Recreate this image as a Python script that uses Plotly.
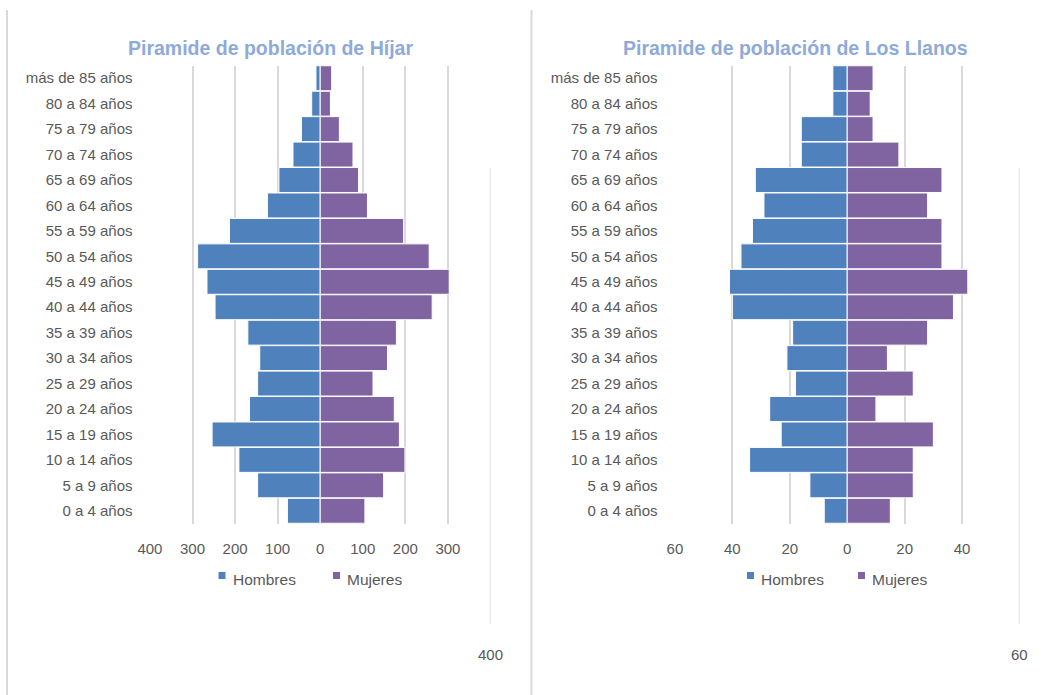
import plotly.graph_objects as go

# Age groups, bottom to top
edades = ["0 a 4 años", "5 a 9 años", "10 a 14 años", "15 a 19 años", "20 a 24 años",
          "25 a 29 años", "30 a 34 años", "35 a 39 años", "40 a 44 años", "45 a 49 años",
          "50 a 54 años", "55 a 59 años", "60 a 64 años", "65 a 69 años", "70 a 74 años",
          "75 a 79 años", "80 a 84 años", "más de 85 años"]

# Híjar (bottom to top)
hijar_hombres = [77, 147, 191, 254, 166, 147, 142, 170, 247, 266, 288, 213, 124, 97, 64, 44, 20, 10]
hijar_mujeres = [105, 149, 199, 186, 174, 124, 158, 179, 263, 303, 256, 196, 111, 90, 77, 45, 24, 27]

# Los Llanos (bottom to top)
llanos_hombres = [8, 13, 34, 23, 27, 18, 21, 19, 40, 41, 37, 33, 29, 32, 16, 16, 5, 5]
llanos_mujeres = [15, 23, 23, 30, 10, 23, 14, 28, 37, 42, 33, 33, 28, 33, 18, 9, 8, 9]

hijar_ticks = [-400, -300, -200, -100, 0, 100, 200, 300]
llanos_ticks = [-60, -40, -20, 0, 20, 40]

C_H = "#4F81BD"
C_M = "#8064A2"
GRID = "#D9D9D9"
TXT = "#595959"
FONT = "Liberation Sans"

W, H = 1043, 695

def px(x):
    return x / W

def py(y):
    return (H - y) / H

fig = go.Figure()

def add_pair(hombres, mujeres, xa, ya):
    fig.add_trace(go.Bar(y=edades, x=[-v for v in hombres], orientation="h", name="Hombres",
                         marker=dict(color=C_H, line=dict(color="white", width=1)),
                         xaxis=xa, yaxis=ya, showlegend=False,
                         customdata=hombres, hovertemplate="%{y}: %{customdata}<extra>Hombres</extra>"))
    fig.add_trace(go.Bar(y=edades, x=mujeres, orientation="h", name="Mujeres",
                         marker=dict(color=C_M, line=dict(color="white", width=1)),
                         xaxis=xa, yaxis=ya, showlegend=False,
                         hovertemplate="%{y}: %{x}<extra>Mujeres</extra>"))

add_pair(hijar_hombres, hijar_mujeres, "x", "y")
add_pair(llanos_hombres, llanos_mujeres, "x2", "y2")

ydom = [py(523.5), py(65.5)]
xcommon = dict(showgrid=True, gridcolor=GRID, gridwidth=1.5, zeroline=True, zerolinecolor=GRID,
               zerolinewidth=1.5, showline=False, ticks="", ticklabelstandoff=14, automargin=False,
               tickfont=dict(family=FONT, size=15, color=TXT), fixedrange=True)
ycommon = dict(type="category", categoryorder="array", categoryarray=edades, showgrid=False,
               zeroline=False, showline=False, ticks="", ticklabelstandoff=16, automargin=False,
               tickfont=dict(family=FONT, size=15, color=TXT), domain=ydom, fixedrange=True)

fig.update_layout(
    width=W, height=H, autosize=False, margin=dict(l=0, r=0, t=0, b=0, pad=0, autoexpand=False),
    paper_bgcolor="white", plot_bgcolor="white",
    barmode="relative", bargap=0.02,
    xaxis=dict(domain=[px(149.5), px(490.5)], range=[-401, 400], tickvals=hijar_ticks,
               ticktext=[str(abs(v)) for v in hijar_ticks], anchor="y", **xcommon),
    yaxis=dict(anchor="x", **ycommon),
    xaxis2=dict(domain=[px(674.5), px(1019.5)], range=[-60.15, 60], tickvals=llanos_ticks,
                ticktext=[str(abs(v)) for v in llanos_ticks], anchor="y2", **xcommon),
    yaxis2=dict(anchor="x2", **ycommon),
    font=dict(family=FONT, color=TXT),
)

titles = [("Piramide de población de Híjar", 270), ("Piramide de población de Los Llanos", 795)]
for t, cx in titles:
    fig.add_annotation(text="<b>" + t + "</b>", x=px(cx), y=py(48), xref="paper", yref="paper",
                       showarrow=False, xanchor="center", yanchor="middle",
                       font=dict(family=FONT, size=19.5, color="#8EAADB"))

# Legends (square + label)
legend_items = [(218.5, 231, "Hombres", C_H), (333, 345, "Mujeres", C_M),
                (747, 759, "Hombres", C_H), (858, 870, "Mujeres", C_M)]
for sx, tx, label, col in legend_items:
    fig.add_shape(type="rect", xref="paper", yref="paper", x0=px(sx), x1=px(sx + 7),
                  y0=py(579), y1=py(572), fillcolor=col, line=dict(width=0))
    fig.add_annotation(text=label, x=px(tx), y=py(579), xref="paper", yref="paper",
                       showarrow=False, xanchor="left", yanchor="middle",
                       font=dict(family=FONT, size=15.5, color=TXT))

# Chart frame borders
for bx in [7, 531.5]:
    fig.add_shape(type="line", xref="paper", yref="paper", x0=px(bx), x1=px(bx),
                  y0=py(10), y1=py(695), line=dict(color=GRID, width=2))

# Stray outer gridline and label of the max value
for xa, val in [("x", 400), ("x2", 60)]:
    fig.add_shape(type="line", xref=xa, yref="paper", x0=val, x1=val, y0=py(168), y1=py(624),
                  line=dict(color=GRID, width=1.5))
    fig.add_annotation(text=str(val), x=val, xref=xa, y=py(654), yref="paper", showarrow=False,
                       xanchor="center", yanchor="middle", font=dict(family=FONT, size=15, color=TXT))

fig.write_html("out.html", config={"displayModeBar": False},
               post_script="document.body.style.margin='0px';document.body.style.overflow='hidden';")
